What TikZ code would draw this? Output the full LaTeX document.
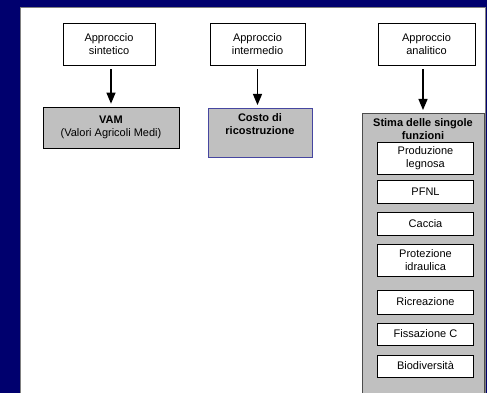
\documentclass[tikz,border=0pt]{standalone}
\usepackage{fontspec}
\setmainfont{Liberation Sans}
\usetikzlibrary{arrows}
\definecolor{bgnavy}{RGB}{0,0,110}
\definecolor{boxgray}{RGB}{192,192,192}
\definecolor{bordoblu}{RGB}{70,70,160}

\begin{document}
\begin{tikzpicture}[x=1pt,y=-1pt,
  font=\fontsize{11}{12.5}\selectfont,
  approccio/.style={draw,fill=white,line width=0.7pt,align=center,minimum height=42pt,inner sep=1pt},
  metodo/.style={draw,fill=boxgray,line width=0.7pt,align=center,inner sep=1pt},
  titolo/.style={anchor=north,align=center,inner sep=5.5pt,font=\fontsize{11}{12.5}\selectfont\bfseries},
  funzione/.style={draw,fill=white,line width=0.7pt,align=center,minimum width=96pt,inner sep=0pt},
  freccia/.style={line width=1.6pt,-triangle 45,shorten <=4pt,shorten >=3pt}]
\useasboundingbox (0,0) rectangle (487,393);
\fill[bgnavy] (0,0) rectangle (487,393);
\draw[gray,fill=white] (20,7) rectangle (485,396);
% approcci
\node[approccio,minimum width=92pt] (sint) at (109,44) {Approccio\\sintetico};
\node[approccio,minimum width=95pt] (inter) at (257.5,44) {Approccio\\intermedio};
\node[approccio,minimum width=97pt] (anal) at (426.5,44) {Approccio\\analitico};
% metodi di stima
\node[metodo,minimum width=136pt,minimum height=41pt] (vam) at (111,127.5) {\textbf{VAM}\\(Valori Agricoli Medi)};
\node[metodo,draw=bordoblu,minimum width=104pt,minimum height=49pt,anchor=north] (costo) at (260,108) {};
\node[titolo] (costotxt) at (costo.north) {Costo di\\ricostruzione};
\node[metodo,draw=black!70,minimum width=122pt,minimum height=283pt,anchor=north] (stima) at (423,113) {};
\node[titolo] (stimatxt) at (stima.north) {Stima delle singole\\funzioni};
% singole funzioni
\node[funzione,minimum height=32pt] (prod) at (425.5,158) {Produzione\\legnosa};
\node[funzione,minimum height=23pt] (pfnl) at (425.5,191.5) {PFNL};
\node[funzione,minimum height=23pt] (caccia) at (425.5,223.5) {Caccia};
\node[funzione,minimum height=32pt] (prot) at (425.5,260) {Protezione\\idraulica};
\node[funzione,minimum height=24pt] (ricr) at (425.5,302) {Ricreazione};
\node[funzione,minimum height=22pt] (fiss) at (425.5,334) {Fissazione C};
\node[funzione,minimum height=22pt] (bio) at (425.5,366) {Biodiversità};
% frecce
\draw[freccia] (vam.north |- sint.south) -- (vam.north);
\draw[freccia] (inter.south) -- (inter.south |- costo.north);
\draw[freccia] (stima.north |- anal.south) -- (stima.north);
\end{tikzpicture}
\end{document}
